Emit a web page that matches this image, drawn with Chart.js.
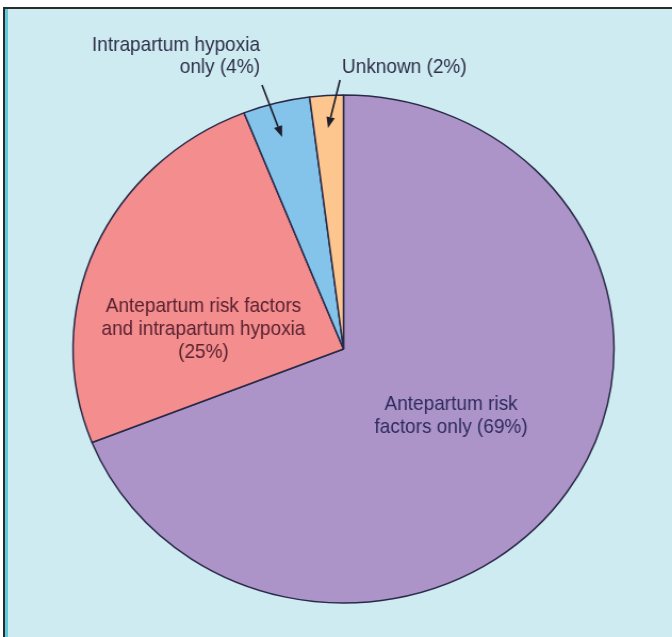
<!DOCTYPE html>
<html>
<head>
<meta charset="utf-8">
<script src="https://cdn.jsdelivr.net/npm/chart.js@4.4.1/dist/chart.umd.min.js"></script>
<style>
  html, body { margin: 0; padding: 0; background: #ffffff; }
  #wrap { position: relative; width: 672px; height: 637px; overflow: hidden; }
  #frame {
    position: absolute; left: 3px; top: 7px; right: 0; bottom: 0;
    background: #cdebf1;
    border-top: 2px solid #2b2b2b;
    border-left: 2px solid #2b2b2b;
    box-shadow: inset 3px 0 0 #62cadd;
  }
  #c { position: absolute; left: 0; top: 0; transform: scaleX(1.065); transform-origin: 343.5px 0; }
</style>
</head>
<body>
<div id="wrap">
  <div id="frame"></div>
  <canvas id="c" width="672" height="637"></canvas>
</div>
<script>
// ---- data ----
const categories = [
  "Antepartum risk factors only",
  "Antepartum risk factors and intrapartum hypoxia",
  "Intrapartum hypoxia only",
  "Unknown"
];
const values = [69, 25, 4, 2];
const sliceColors = ["#ad94c8", "#f38d8e", "#84c3ea", "#fdc68f"];

// ---- label layout (offsets from pie centre, in canvas px before stretch) ----
const labelDefs = [
  { lines: ["Antepartum risk", "factors only (69%)"], dx: 101, dy: [61, 84], align: "center", color: "#2e2b5e" },
  { lines: ["Antepartum risk factors", "and intrapartum hypoxia", "(25%)"], dx: -131.5, dy: [-37, -14, 9], align: "center", color: "#5a2230" },
  { lines: ["Intrapartum hypoxia", "only (4%)"], dx: -78.4, dy: [-298, -276], align: "right", color: "#2e2e48" },
  { lines: ["Unknown (2%)"], dx: -1.4, dy: [-276], align: "left", color: "#2e2e48" }
];
const arrowDefs = [
  { from: [-76.5, -264], to: [-57.7, -212] },
  { from: [-3.3, -269], to: [-14.6, -221] }
];

const labelPlugin = {
  id: "labelPlugin",
  afterDraw(chart) {
    const arc = chart.getDatasetMeta(0).data[0];
    if (!arc) return;
    const cx = arc.x, cy = arc.y;
    const ctx = chart.ctx;
    ctx.save();
    ctx.font = '21px "Liberation Sans", Arial, sans-serif';
    ctx.textBaseline = "alphabetic";
    labelDefs.forEach(l => {
      ctx.fillStyle = l.color;
      ctx.textAlign = l.align;
      l.lines.forEach((t, i) => {
        ctx.save();
        ctx.translate(cx + l.dx, cy + l.dy[i]);
        ctx.scale(0.85, 1);
        ctx.fillText(t, 0, 0);
        ctx.restore();
      });
    });
    ctx.strokeStyle = "#1e1e2a";
    ctx.fillStyle = "#1e1e2a";
    ctx.lineWidth = 1.6;
    arrowDefs.forEach(a => {
      const x1 = cx + a.from[0], y1 = cy + a.from[1];
      const x2 = cx + a.to[0], y2 = cy + a.to[1];
      const ang = Math.atan2(y2 - y1, x2 - x1);
      const hl = 11, hw = 4;
      const bx = x2 - hl * Math.cos(ang), by = y2 - hl * Math.sin(ang);
      ctx.beginPath();
      ctx.moveTo(x1, y1);
      ctx.lineTo(bx, by);
      ctx.stroke();
      ctx.beginPath();
      ctx.moveTo(x2, y2);
      ctx.lineTo(bx + hw * Math.sin(ang), by - hw * Math.cos(ang));
      ctx.lineTo(bx - hw * Math.sin(ang), by + hw * Math.cos(ang));
      ctx.closePath();
      ctx.fill();
    });
    ctx.restore();
  }
};

new Chart(document.getElementById("c"), {
  type: "pie",
  data: {
    labels: categories,
    datasets: [{
      data: values,
      backgroundColor: sliceColors,
      borderColor: "#2a2a48",
      borderWidth: 1.5
    }]
  },
  options: {
    responsive: false,
    animation: false,
    radius: 254,
    layout: { padding: { left: 15, right: 0, top: 61, bottom: 0 } },
    plugins: { legend: { display: false }, tooltip: { enabled: false } }
  },
  plugins: [labelPlugin]
});
</script>
</body>
</html>
